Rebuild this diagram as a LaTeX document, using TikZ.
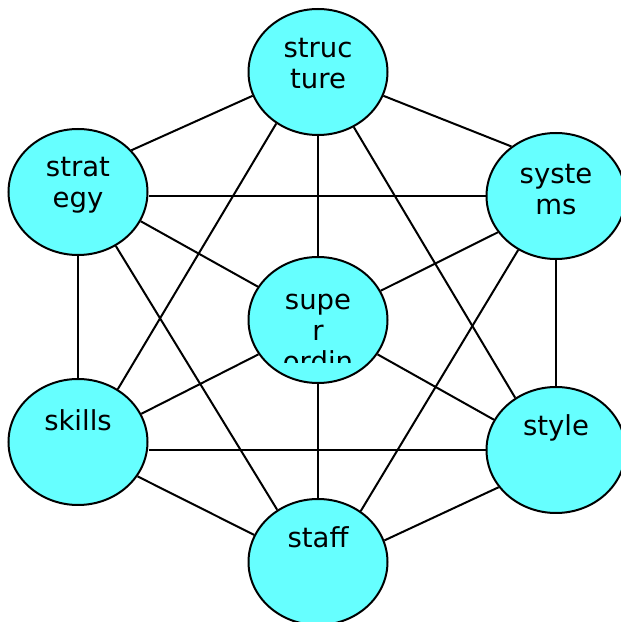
\documentclass[tikz,border=0pt]{standalone}
\usepackage{fontspec}
\setmainfont{DejaVu Sans}
\usetikzlibrary{shapes.geometric}
\definecolor{ballcyan}{HTML}{66FFFF}

\begin{document}
\begin{tikzpicture}
[
x=1pt, y=1pt,
line width=2pt,
ball/.style={ellipse, draw, fill=ballcyan, minimum width=139pt, minimum height=126pt, inner sep=0pt},
word/.style={font=\fontsize{27.5}{31}\selectfont, align=center, inner sep=0pt, anchor=north}
]
\useasboundingbox (0,0) rectangle (621,622);

\node[ball] (structure) at (318,550) {};
\node[ball] (strategy) at (78,430) {};
\node[ball] (systems) at (556,426) {};
\node[ball] (super) at (318,302) {};
\node[ball] (skills) at (78,180) {};
\node[ball] (style) at (556,172) {};
\node[ball] (staff) at (318,60) {};

\node[word] (structure-t) at ([yshift=37pt]structure.center) {\strut struc\\ture};
\node[word] (strategy-t) at ([yshift=38pt]strategy.center) {\strut strat\\egy};
\node[word] (systems-t) at ([yshift=35pt]systems.center) {\strut syste\\ms};
\node[word] (skills-t) at ([yshift=34pt]skills.center) {\strut skills};
\node[word] (style-t) at ([yshift=37pt]style.center) {\strut style};
\node[word] (staff-t) at ([yshift=37pt]staff.center) {\strut staff};
\begin{scope}
\clip ([yshift=-43pt]super.west) rectangle (super.north east);
\node[word] (super-t) at ([yshift=33pt]super.center) {\strut supe\\r\\ordin};
\end{scope}

\draw (strategy.38) -- (structure.200);
\draw (structure.-20) -- (systems.132);
\draw (strategy.-25) -- (super.151);
\draw (systems.212) -- (super.25);
\draw (skills.24) -- (super.210);
\draw (super.-30) -- (style.154);
\draw (skills.-30) -- (staff.157);
\draw (style.west) -- (style.west -| skills.east);
\draw (systems.west) -- (systems.west -| strategy.east);
\draw (strategy.south) -- (skills.north);
\draw (systems.south) -- (style.north);
\draw (structure.south) -- (super.north);
\draw (super.south) -- (staff.north);
\draw (structure.231) -- (skills.53);
\draw (structure.-57) -- (style.128);
\draw (strategy.-55) -- (staff.128);
\draw (systems.235) -- (staff.50);
\draw (style.213) -- (staff.18);
\end{tikzpicture}
\end{document}
